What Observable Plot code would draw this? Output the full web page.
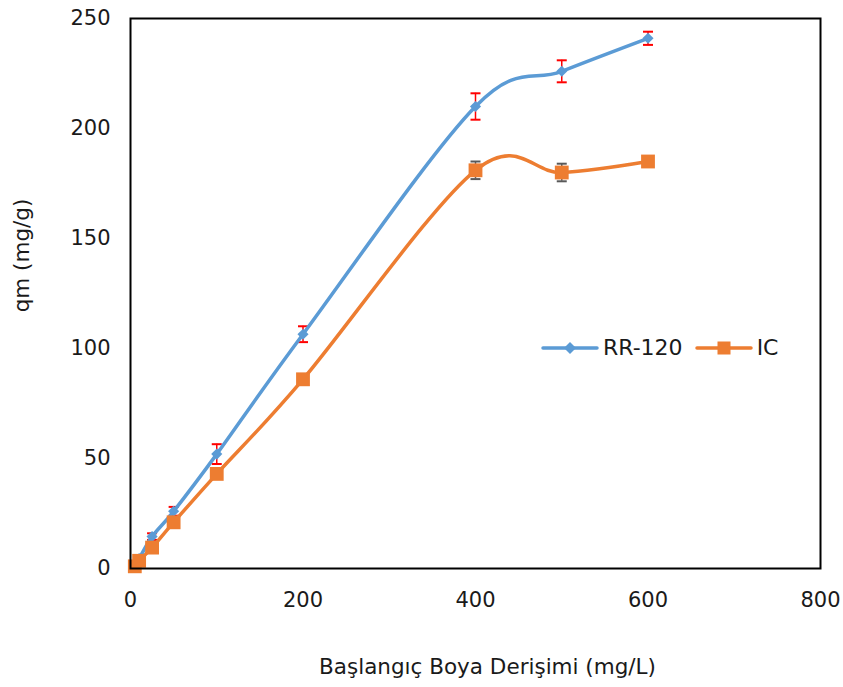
<!DOCTYPE html>
<html>
<head>
<meta charset="utf-8">
<script src="https://cdn.jsdelivr.net/npm/d3@7"></script>
<script src="https://cdn.jsdelivr.net/npm/@observablehq/plot@0.6"></script>
<style>
  html, body { margin: 0; padding: 0; background: #fff; }
  #wrap { position: relative; width: 843px; height: 687px; }
  #legend { position: absolute; left: 541px; top: 335px; height: 26px; display: flex; align-items: center;
            font-family: "DejaVu Sans", Verdana, sans-serif; font-size: 22px; color: #1a1a1a; line-height: 26px; }
  #legend .item { display: flex; align-items: center; margin-right: 12px; }
  #legend svg { margin-right: 4px; display: block; }
</style>
</head>
<body>
<div id="wrap"></div>
<script>
const conc = [5, 10, 25, 50, 100, 200, 400, 500, 600];
const rr120 = [2, 4.5, 14.5, 26, 52, 106.5, 210, 226, 241];
const rr120Err = [1, 1, 1.5, 2, 4.5, 3.6, 6, 5, 3];
const ic = [1, 3.5, 9.5, 21, 43, 86, 181, 180, 185];
const icErr = [0.5, 0.5, 1, 1, 1.5, 1.5, 4, 4, 1];
const seriesNames = ["RR-120", "IC"];
const xTicks = [0, 200, 400, 600, 800];
const yTicks = [0, 50, 100, 150, 200, 250];

const blue = "#5B9BD5", orange = "#ED7D31";

const rrData = conc.map((x, i) => ({x, y: rr120[i], e: rr120Err[i]}));
const icData = conc.map((x, i) => ({x, y: ic[i], e: icErr[i]}));

const capSymbol = {
  draw(context, size) {
    const w = 5;
    context.moveTo(-w, 0);
    context.lineTo(w, 0);
  }
};

const font = "DejaVu Sans, Verdana, sans-serif";

const chart = Plot.plot({
  width: 843,
  height: 687,
  marginLeft: 130,
  marginRight: 23,
  marginTop: 18,
  marginBottom: 119,
  style: {fontFamily: font, fontSize: "21px", color: "#1a1a1a", background: "#fff"},
  x: {domain: [0, 800], ticks: xTicks},
  y: {domain: [0, 250], ticks: yTicks},
  marks: [
    Plot.axisX({ticks: xTicks, tickSize: 0, tickPadding: 24, fontSize: 21, label: null}),
    Plot.axisY({ticks: yTicks, tickSize: 0, tickPadding: 20, fontSize: 21, label: null}),
    // error bars
    Plot.ruleX(rrData, {x: "x", y1: d => d.y - d.e, y2: d => d.y + d.e, stroke: "#FF0000", strokeWidth: 1.5}),
    Plot.dot(rrData, {x: "x", y: d => d.y - d.e, symbol: capSymbol, stroke: "#FF0000", strokeWidth: 2, r: 3}),
    Plot.dot(rrData, {x: "x", y: d => d.y + d.e, symbol: capSymbol, stroke: "#FF0000", strokeWidth: 2, r: 3}),
    Plot.ruleX(icData, {x: "x", y1: d => d.y - d.e, y2: d => d.y + d.e, stroke: "#595959", strokeWidth: 1.5}),
    Plot.dot(icData, {x: "x", y: d => d.y - d.e, symbol: capSymbol, stroke: "#595959", strokeWidth: 2, r: 3}),
    Plot.dot(icData, {x: "x", y: d => d.y + d.e, symbol: capSymbol, stroke: "#595959", strokeWidth: 2, r: 3}),
    // lines
    Plot.line(rrData, {x: "x", y: "y", stroke: blue, strokeWidth: 3.5, curve: "cardinal"}),
    Plot.line(icData, {x: "x", y: "y", stroke: orange, strokeWidth: 3.5, curve: "cardinal"}),
    // markers
    Plot.dot(rrData, {x: "x", y: "y", symbol: "diamond2", fill: blue, stroke: "none", r: 5}),
    Plot.dot(icData, {x: "x", y: "y", symbol: "square", fill: orange, stroke: "none", r: 7.8}),
    Plot.frame({stroke: "#000", strokeWidth: 2}),
    // axis titles
    Plot.text(["qm (mg/g)"], {frameAnchor: "left", textAnchor: "middle", dx: -108, dy: -38, rotate: -90, fontSize: 21.5, fill: "#1a1a1a"}),
    Plot.text(["Başlangıç Boya Derişimi (mg/L)"], {frameAnchor: "bottom", textAnchor: "middle", dx: 12, dy: 105, fontSize: 21.5, fill: "#1a1a1a"})
  ]
});

const wrap = document.getElementById("wrap");
wrap.appendChild(chart);

// legend
const legend = document.createElement("div");
legend.id = "legend";
const items = [
  {name: seriesNames[0], color: blue, marker: "diamond"},
  {name: seriesNames[1], color: orange, marker: "square"}
];
for (const it of items) {
  const div = document.createElement("div");
  div.className = "item";
  const m = it.marker === "diamond"
    ? `<path d="M29,7 L35,13 L29,19 L23,13 Z" fill="${it.color}"/>`
    : `<rect x="22.5" y="6.5" width="13" height="13" fill="${it.color}"/>`;
  div.innerHTML = `<svg width="58" height="26"><line x1="2" y1="13" x2="56" y2="13" stroke="${it.color}" stroke-width="3.5" stroke-linecap="round"/>${m}</svg><span>${it.name}</span>`;
  legend.appendChild(div);
}
wrap.appendChild(legend);
</script>
</body>
</html>
